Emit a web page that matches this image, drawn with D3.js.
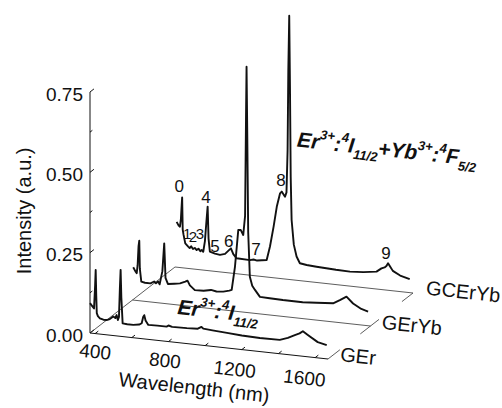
<!DOCTYPE html>
<html>
<head>
<meta charset="utf-8">
<script src="https://cdn.jsdelivr.net/npm/d3@7"></script>
<style>
  body { margin: 0; background: #fff; }
  text { font-family: "Liberation Sans", Arial, Helvetica, sans-serif; fill: #111; }
</style>
</head>
<body>
<div id="chart"></div>
<script>
// wavelength (nm) / intensity (a.u.)
var gerWl = [372, 382, 394, 400, 403, 406, 409, 415, 426, 445, 463, 480, 499, 510, 517, 524, 530, 535, 539, 543, 550, 575, 608, 640, 654, 662, 668, 675, 690, 740, 790, 800, 820, 900, 960, 980, 990, 1040, 1119, 1200, 1298, 1407, 1451, 1489, 1515, 1533, 1560, 1614, 1663];
var gerI  = [0.093, 0.086, 0.078, 0.15, 0.198, 0.12, 0.064, 0.055, 0.049, 0.046, 0.046, 0.05, 0.059, 0.055, 0.065, 0.05, 0.06, 0.15, 0.207, 0.12, 0.041, 0.04, 0.04, 0.043, 0.048, 0.068, 0.074, 0.058, 0.045, 0.046, 0.046, 0.05, 0.047, 0.048, 0.05, 0.057, 0.052, 0.05, 0.047, 0.044, 0.042, 0.043, 0.052, 0.063, 0.07, 0.078, 0.068, 0.049, 0.043];

var geryWl = [376, 388, 395, 400, 405, 409, 412, 420, 440, 470, 490, 500, 512, 520, 535, 545, 552, 565, 600, 631, 660, 672, 685, 712, 760, 800, 830, 867, 900, 913, 931, 949, 962, 976, 986, 991, 994, 998, 1003, 1012, 1025, 1040, 1067, 1120, 1192, 1300, 1376, 1466, 1503, 1539, 1575, 1620, 1657];
var geryI  = [0.102, 0.09, 0.085, 0.11, 0.17, 0.187, 0.1, 0.06, 0.058, 0.058, 0.065, 0.06, 0.066, 0.058, 0.1, 0.187, 0.08, 0.062, 0.065, 0.068, 0.075, 0.079, 0.065, 0.052, 0.053, 0.058, 0.055, 0.057, 0.062, 0.065, 0.139, 0.254, 0.255, 0.24, 0.3, 0.6, 0.765, 0.55, 0.25, 0.112, 0.085, 0.073, 0.053, 0.052, 0.051, 0.051, 0.054, 0.058, 0.07, 0.083, 0.064, 0.05, 0.044];

var gcWl = [381, 392, 399, 404, 408, 411, 414, 418, 428, 444, 452, 460, 470, 480, 490, 500, 510, 518, 526, 535, 543, 550, 555, 562, 590, 617, 645, 665, 677, 690, 708, 781, 800, 820, 872, 890, 910, 927, 945, 954, 965, 972, 980, 986, 990, 995, 999, 1003, 1008, 1020, 1035, 1053, 1090, 1144, 1250, 1326, 1400, 1471, 1498, 1515, 1525, 1534, 1545, 1560, 1600, 1652];
var gcI  = [0.141, 0.13, 0.127, 0.15, 0.19, 0.219, 0.12, 0.105, 0.077, 0.068, 0.064, 0.07, 0.062, 0.066, 0.06, 0.065, 0.058, 0.062, 0.057, 0.09, 0.15, 0.199, 0.1, 0.06, 0.055, 0.053, 0.058, 0.07, 0.077, 0.06, 0.048, 0.047, 0.05, 0.048, 0.053, 0.096, 0.16, 0.222, 0.265, 0.271, 0.262, 0.256, 0.27, 0.4, 0.65, 0.821, 0.6, 0.32, 0.186, 0.11, 0.074, 0.054, 0.051, 0.049, 0.046, 0.045, 0.048, 0.054, 0.066, 0.07, 0.075, 0.084, 0.075, 0.062, 0.05, 0.042];

var seriesNames = ["GEr", "GErYb", "GCErYb"];
var seriesDepth = [0, 0.5, 1];
var labelDepth  = [0.09, 0.58, 1.1];
var leaderDepth = [[0, 0.14], [0.38, 0.6], [0.87, 1]];

var xTicks = [400, 600, 800, 1000, 1200, 1400, 1600];
var xLabels = [400, 800, 1200, 1600];
var yTicks = [0, 0.25, 0.5, 0.75];
var yMinor = [0.125, 0.375, 0.625];

// peak numbers on the GCErYb trace
var peakText = ["0", "1", "2", "3", "4", "5", "6", "7", "8", "9"];
var peakWl   = [395, 439, 470, 508, 541, 590, 665, 813, 950, 1522];
var peakI    = [0.254, 0.108, 0.1, 0.111, 0.228, 0.08, 0.1, 0.083, 0.307, 0.114];

var svg = d3.select("#chart").append("svg")
    .attr("width", 502)
    .attr("height", 408);

// oblique projection: origin, wavelength axis vector, depth vector
var X0 = 90, Y0 = 333, AX = 238, AY = 26, DX = 85, DY = -66;
var wScale = d3.scaleLinear().domain([372, 1670]).range([0, 1]);
var iScale = d3.scaleLinear().domain([0, 0.75]).range([0, 241]);
var ang = Math.atan2(AY, AX) * 180 / Math.PI;
var dLen = Math.sqrt(DX * DX + DY * DY);

function px(w, d) { return X0 + wScale(w) * AX + d * DX; }
function py(w, d, i) { return Y0 + wScale(w) * AY + d * DY - iScale(i || 0); }

var wMin = wScale.domain()[0], wMax = wScale.domain()[1];

// thin frame lines
var thin = svg.append("g").attr("stroke", "#333").attr("stroke-width", 0.8).attr("fill", "none");
thin.append("line")
    .attr("x1", px(wMin, 0)).attr("y1", py(wMin, 0))
    .attr("x2", px(wMin, 1)).attr("y2", py(wMin, 1));
[0.5, 1].forEach(function(d) {
  thin.append("line")
      .attr("x1", px(wMin, d)).attr("y1", py(wMin, d))
      .attr("x2", px(wMax, d)).attr("y2", py(wMax, d));
});
leaderDepth.forEach(function(r) {
  thin.append("line")
      .attr("x1", px(wMax, r[0])).attr("y1", py(wMax, r[0]))
      .attr("x2", px(wMax, r[1])).attr("y2", py(wMax, r[1]));
});

// axes
var ax = svg.append("g").attr("stroke", "#111").attr("stroke-width", 1).attr("fill", "none");
ax.append("line")
    .attr("x1", px(wMin, 0)).attr("y1", py(wMin, 0, 0))
    .attr("x2", px(wMin, 0)).attr("y2", py(wMin, 0, 0.75));
ax.append("line")
    .attr("x1", px(wMin, 0)).attr("y1", py(wMin, 0))
    .attr("x2", px(wMax, 0)).attr("y2", py(wMax, 0));

yTicks.concat(yMinor).forEach(function(t) {
  var len = yTicks.indexOf(t) >= 0 ? 5 : 3;
  ax.append("line")
      .attr("x1", px(wMin, 0)).attr("y1", py(wMin, 0, t))
      .attr("x2", px(wMin, 0) + DX / dLen * len).attr("y2", py(wMin, 0, t) + DY / dLen * len);
});
xTicks.forEach(function(t) {
  ax.append("line")
      .attr("x1", px(t, 0)).attr("y1", py(t, 0))
      .attr("x2", px(t, 0) + DX / dLen * 4).attr("y2", py(t, 0) + DY / dLen * 4);
});

yTicks.forEach(function(t) {
  svg.append("text")
      .attr("x", px(wMin, 0) - 7)
      .attr("y", py(wMin, 0, t) + 2)
      .attr("dy", "0.35em")
      .attr("text-anchor", "end")
      .style("font-size", "19px")
      .text(d3.format(".2f")(t));
});
xLabels.forEach(function(t) {
  var x = px(t, 0) - (t - 400) * 0.009, y = py(t, 0) + 18 + (t - 400) * 0.002;
  svg.append("text")
      .attr("transform", "translate(" + x + "," + y + ") rotate(" + ang + ")")
      .attr("dy", "0.35em")
      .attr("text-anchor", "middle")
      .style("font-size", "19px")
      .text(t);
});

svg.append("text")
    .attr("transform", "translate(" + px(940, 0) + "," + (py(940, 0) + 43) + ") rotate(" + ang + ")")
    .attr("dy", "0.35em")
    .attr("text-anchor", "middle")
    .style("font-size", "20px")
    .text("Wavelength (nm)");
svg.append("text")
    .attr("transform", "translate(24," + py(wMin, 0, 0.38) + ") rotate(-90)")
    .attr("dy", "0.35em")
    .attr("text-anchor", "middle")
    .style("font-size", "20px")
    .text("Intensity (a.u.)");

// spectra, back to front
var traces = [[gerWl, gerI], [geryWl, geryI], [gcWl, gcI]];
[2, 1, 0].forEach(function(k) {
  var d = seriesDepth[k];
  var pts = traces[k][0].map(function(w, j) { return [w, traces[k][1][j]]; });
  var line = d3.line()
      .x(function(p) { return px(p[0], d); })
      .y(function(p) { return py(p[0], d, p[1]); });
  svg.append("path")
      .datum(pts)
      .attr("d", line)
      .attr("fill", "none")
      .attr("stroke", "#111")
      .attr("stroke-width", 1.9)
      .attr("stroke-linejoin", "round");
});

// series names on the right edge
seriesNames.forEach(function(n, k) {
  var x = px(wMax, labelDepth[k]) + 4, y = py(wMax, labelDepth[k]) + 8;
  svg.append("text")
      .attr("transform", "translate(" + x + "," + y + ") rotate(" + ang + ")")
      .style("font-size", "20px")
      .text(n);
});

peakText.forEach(function(t, j) {
  svg.append("text")
      .attr("x", px(peakWl[j], 1))
      .attr("y", py(peakWl[j], 1, peakI[j]))
      .attr("dy", "0.35em")
      .attr("text-anchor", "middle")
      .style("font-size", j >= 1 && j <= 3 ? "15px" : "17px")
      .text(t);
});

// level annotations
function levelText(x, y, parts) {
  var t = svg.append("text")
      .attr("transform", "translate(" + x + "," + y + ") rotate(" + ang + ")")
      .style("font-weight", "bold")
      .style("font-style", "italic");
  var prev = 0;
  parts.forEach(function(p) {
    var shift = p[1] === "sup" ? -10 : p[1] === "sub" ? 6 : 0;
    t.append("tspan")
        .attr("dy", shift - prev)
        .style("font-size", p[1] ? "13px" : "21px")
        .text(p[0]);
    prev = shift;
  });
}
levelText(px(846, 0), py(846, 0, 0.089),
  [["Er"], ["3+", "sup"], [":"], ["4", "sup"], ["I"], ["11/2", "sub"]]);
levelText(px(1035, 1), py(1035, 1, 0.416),
  [["Er"], ["3+", "sup"], [":"], ["4", "sup"], ["I"], ["11/2", "sub"], ["+"], ["Yb"], ["3+", "sup"], [":"], ["4", "sup"], ["F"], ["5/2", "sub"]]);
</script>
</body>
</html>
